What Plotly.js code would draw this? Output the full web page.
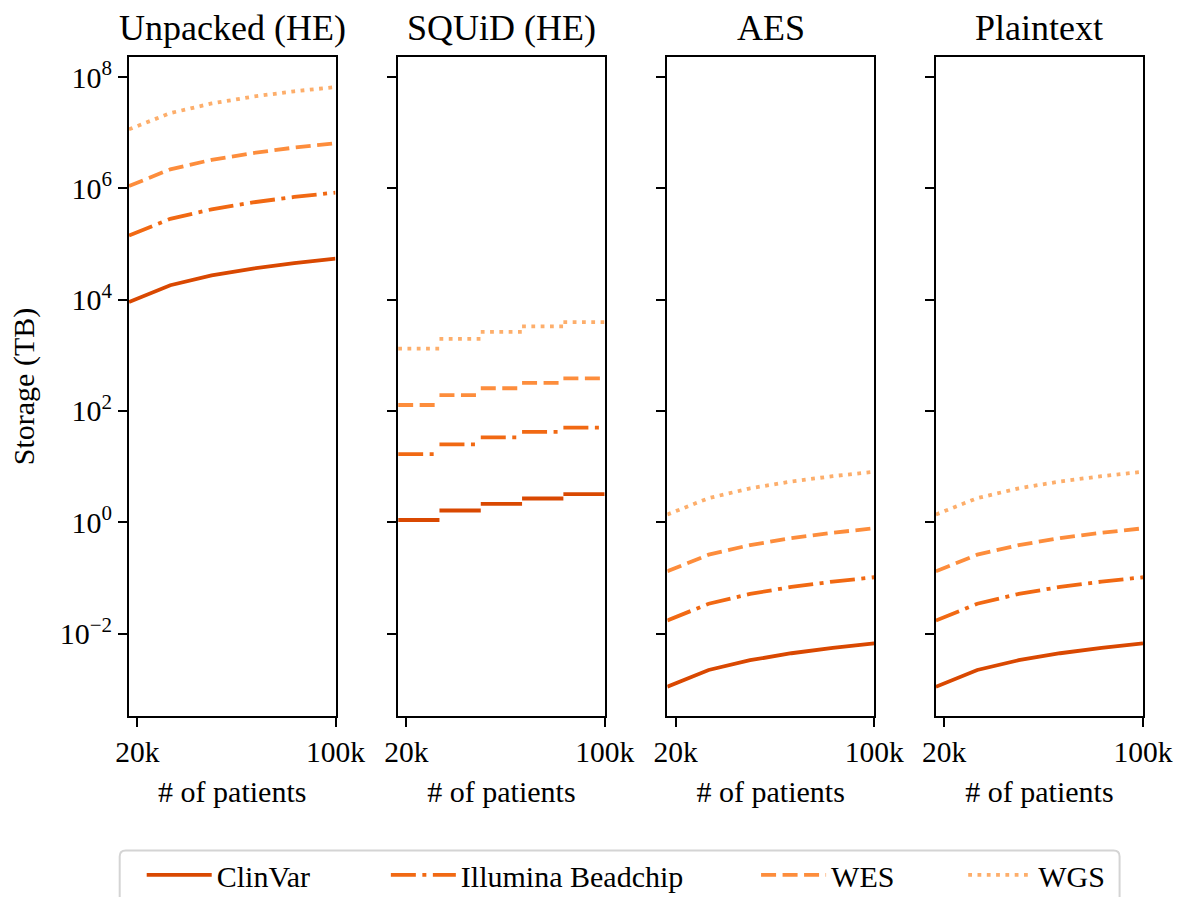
<!DOCTYPE html>
<html>
<head>
<meta charset="utf-8">
<script src="https://cdn.plot.ly/plotly-3.0.1.min.js"></script>
<style>html,body{margin:0;padding:0;background:#fff;}#chart{width:1179px;height:897px;}</style>
</head>
<body>
<div id="chart"></div>
<script>
// ---------------- data ----------------
const panelTitles = ["Unpacked (HE)", "SQUiD (HE)", "AES", "Plaintext"];
const seriesNames = ["ClinVar", "Illumina Beadchip", "WES", "WGS"];
const patients = [16667, 33333, 50000, 66667, 83333, 100000];
const xTickVals = [20000, 100000];
const xTickText = ["20k", "100k"];
const yTickVals = [1e-2, 1, 1e2, 1e4, 1e6, 1e8];
const yTickText = ["10<sup>\u22122</sup>", "10<sup>0</sup>", "10<sup>2</sup>", "10<sup>4</sup>", "10<sup>6</sup>", "10<sup>8</sup>"];

const unpackedClinVar  = [9.1e3, 1.82e4, 2.72e4, 3.63e4, 4.54e4, 5.45e4];
const unpackedIllumina = [1.42e5, 2.84e5, 4.2e5, 5.6e5, 7.0e5, 8.4e5];
const unpackedWES      = [1.1e6, 2.2e6, 3.25e6, 4.3e6, 5.4e6, 6.45e6];
const unpackedWGS      = [1.15e7, 2.25e7, 3.35e7, 4.45e7, 5.55e7, 6.6e7];

// SQUiD: one flat level per interval between consecutive patient counts
const squidClinVar  = [1.1, 1.63, 2.15, 2.68, 3.22];
const squidIllumina = [16.8, 25.2, 33.6, 42, 50.4];
const squidWES      = [128, 192, 256, 320, 384];
const squidWGS      = [1320, 1980, 2640, 3300, 3960];

const aesClinVar  = [1.11e-3, 2.22e-3, 3.33e-3, 4.44e-3, 5.55e-3, 6.67e-3];
const aesIllumina = [0.0172, 0.0344, 0.0516, 0.069, 0.086, 0.103];
const aesWES      = [0.132, 0.262, 0.39, 0.52, 0.65, 0.78];
const aesWGS      = [1.38, 2.72, 4.08, 5.42, 6.75, 8.1];

const plainClinVar  = [1.11e-3, 2.22e-3, 3.33e-3, 4.44e-3, 5.55e-3, 6.67e-3];
const plainIllumina = [0.0172, 0.0344, 0.0516, 0.069, 0.086, 0.103];
const plainWES      = [0.132, 0.262, 0.39, 0.52, 0.65, 0.78];
const plainWGS      = [1.38, 2.72, 4.08, 5.42, 6.75, 8.1];

// ---------------- styles ----------------
const colors = ["#d94801", "#f16913", "#fd8d3c", "#fdae6b"];
const dashes = ["solid", "25px,6.5px,4px,6.5px", "15px,6.5px", "3.8px,5.5px"];
const LW = 3.8;
const FONT = "Liberation Serif, Times New Roman, serif";

function stepSegments(bounds, vals) {
  const x = [], y = [];
  for (let i = 0; i < vals.length; i++) {
    x.push(bounds[i], bounds[i + 1], null);
    y.push(vals[i], vals[i], null);
  }
  return {x, y};
}

const panels = [
  [unpackedClinVar, unpackedIllumina, unpackedWES, unpackedWGS],
  [squidClinVar, squidIllumina, squidWES, squidWGS],
  [aesClinVar, aesIllumina, aesWES, aesWGS],
  [plainClinVar, plainIllumina, plainWES, plainWGS]
];
const legendIds = ["legend", "legend2", "legend3", "legend4"];

const traces = [];
panels.forEach((series, p) => {
  series.forEach((vals, s) => {
    let xs = patients, ys = vals;
    if (p === 1) { const seg = stepSegments(patients, vals); xs = seg.x; ys = seg.y; }
    traces.push({
      type: "scatter", mode: "lines",
      x: xs, y: ys,
      name: seriesNames[s],
      xaxis: p === 0 ? "x" : "x" + (p + 1),
      yaxis: p === 0 ? "y" : "y" + (p + 1),
      line: {color: colors[s], width: LW, dash: dashes[s]},
      connectgaps: false,
      showlegend: p === 0,
      legend: legendIds[s],
      hoverinfo: "x+y+name"
    });
  });
});

// ---------------- layout ----------------
const M = {l: 129.3, r: 36.3, t: 56.7, b: 181, autoexpand: false};
const PW = 1179 - M.l - M.r;
const PH = 897 - M.t - M.b;
const px2x = v => (v - M.l) / PW;
const px2y = v => (897 - M.b - v) / PH;

const domains = [[129.3, 335.7], [398.3, 604.7], [667.3, 874], [935.7, 1142.7]];

const layout = {
  width: 1179, height: 897,
  margin: M,
  paper_bgcolor: "#fff", plot_bgcolor: "#fff",
  font: {family: FONT, size: 29, color: "#000"},
  showlegend: true,
  annotations: [],
  shapes: []
};

const yRange = [-3.48, 8.36];
domains.forEach((d, i) => {
  const xk = i === 0 ? "xaxis" : "xaxis" + (i + 1);
  const yk = i === 0 ? "yaxis" : "yaxis" + (i + 1);
  const xa = i === 0 ? "x" : "x" + (i + 1);
  const ya = i === 0 ? "y" : "y" + (i + 1);
  layout[xk] = {
    domain: [px2x(d[0]), px2x(d[1])],
    anchor: ya,
    range: [16667, 100000],
    tickmode: "array", tickvals: xTickVals, ticktext: xTickText,
    ticks: "outside", ticklen: 9, tickwidth: 2, tickcolor: "#000",
    showline: true, mirror: true, linecolor: "#000", linewidth: 2,
    showgrid: false, zeroline: false,
    tickfont: {family: FONT, size: 29.5, color: "#000"},
    title: {text: "# of patients", font: {family: FONT, size: 30, color: "#000"}, standoff: 14},
    automargin: false
  };
  layout[yk] = {
    domain: [0, 1],
    anchor: xa,
    type: "log",
    range: yRange,
    tickmode: "array", tickvals: yTickVals, ticktext: yTickText,
    ticks: "outside", ticklen: 9, tickwidth: 2, tickcolor: "#000",
    showline: true, mirror: true, linecolor: "#000", linewidth: 2,
    showgrid: false, zeroline: false,
    showticklabels: i === 0,
    tickfont: {family: FONT, size: 30, color: "#000"},
    automargin: false
  };
  if (i > 0) layout[yk].matches = "y";
  if (i === 0) layout[yk].title = {text: "Storage (TB)", font: {family: FONT, size: 30, color: "#000"}, standoff: 16};
  layout.annotations.push({
    xref: "paper", yref: "paper",
    x: (px2x(d[0]) + px2x(d[1])) / 2, y: px2y(28),
    xanchor: "center", yanchor: "middle",
    text: panelTitles[i], showarrow: false,
    font: {family: FONT, size: 36, color: "#000"}
  });
});

// legends: one per series, placed to mimic the expanded single-row legend
const legendTextStart = [217, 461, 831, 1038];
const ITEMW = 65;
legendIds.forEach((id, i) => {
  layout[id] = {
    orientation: "h",
    x: px2x(legendTextStart[i] - ITEMW - 10), xanchor: "left",
    y: px2y(875), yanchor: "middle",
    itemwidth: ITEMW,
    bgcolor: "rgba(0,0,0,0)", borderwidth: 0,
    font: {family: FONT, size: 30, color: "#000"}
  };
});

// legend frame
const x0 = px2x(120), x1 = px2x(1119.3), yt = px2y(850.5), yb = px2y(905);
const rx = 6 / PW, ry = 6 / PH;
layout.shapes.push({
  type: "path", xref: "paper", yref: "paper", layer: "below",
  path: `M${x0 + rx},${yt} L${x1 - rx},${yt} Q${x1},${yt} ${x1},${yt - ry} L${x1},${yb} L${x0},${yb} L${x0},${yt - ry} Q${x0},${yt} ${x0 + rx},${yt} Z`,
  line: {color: "#d4d4d4", width: 2},
  fillcolor: "rgba(255,255,255,0.8)"
});

Plotly.newPlot("chart", traces, layout, {displayModeBar: false, staticPlot: true});
</script>
</body>
</html>
